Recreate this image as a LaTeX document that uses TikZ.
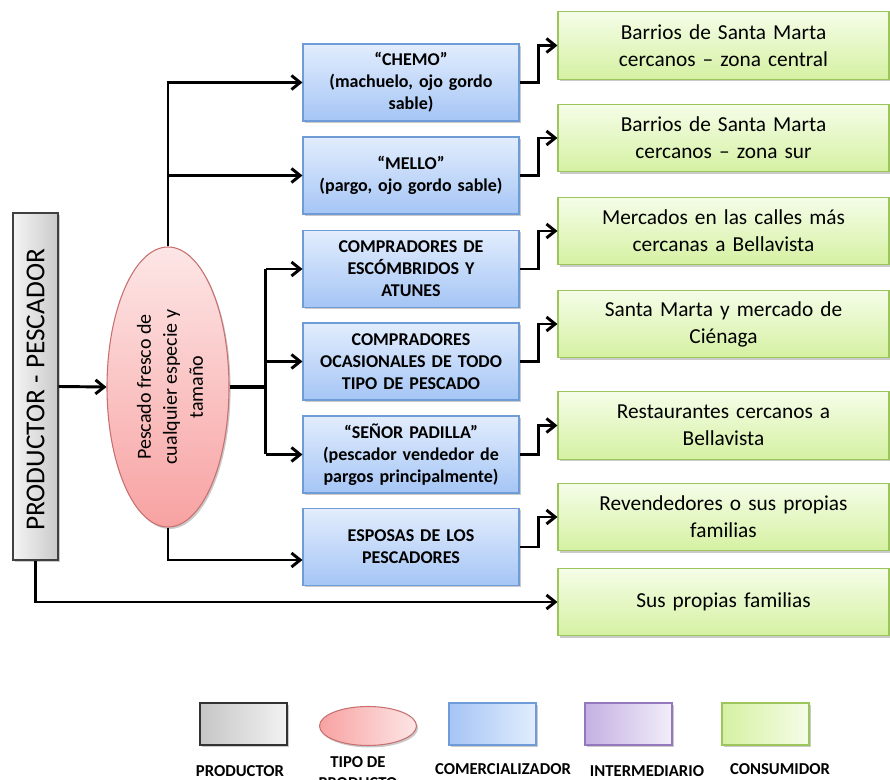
\documentclass[tikz,border=0pt]{standalone}
\usepackage{fontspec}
\setmainfont{Carlito}
\usetikzlibrary{arrows.meta,shapes.geometric,shadows,calc}

\definecolor{bluetop}{HTML}{E2EDFD}
\definecolor{bluebot}{HTML}{A5C5F5}
\definecolor{bluedraw}{HTML}{6F9BD6}
\definecolor{greentop}{HTML}{F5FDE8}
\definecolor{greenbot}{HTML}{D5F1A2}
\definecolor{greendraw}{HTML}{9CC65C}
\definecolor{pinktop}{HTML}{FDE6E6}
\definecolor{pinkbot}{HTML}{F8A2A2}
\definecolor{pinkdraw}{HTML}{C87070}
\definecolor{violetleft}{HTML}{C4B0E2}
\definecolor{violetright}{HTML}{F2EEF9}
\definecolor{violetdraw}{HTML}{9478BE}

\begin{document}
\begin{tikzpicture}[x=0.75pt,y=-0.75pt,
  boxshadow/.style={drop shadow={shadow xshift=1.2pt,shadow yshift=-1.5pt,opacity=0.35,fill=black!60}},
  buyer/.style={rectangle,draw=bluedraw,line width=0.8pt,top color=bluetop,bottom color=bluebot,
    minimum width=162pt,minimum height=57.75pt,text width=156pt,align=center,inner sep=2pt,
    font=\fontsize{13.5}{16.5}\selectfont\bfseries,boxshadow},
  consumer/.style={rectangle,draw=greendraw,line width=0.8pt,top color=greentop,bottom color=greenbot,
    minimum width=248.25pt,minimum height=50.75pt,text width=240pt,align=center,inner sep=2pt,
    font=\fontsize{16}{20.25}\selectfont,boxshadow},
  keybox/.style={rectangle,line width=0.8pt,minimum width=65.25pt,minimum height=31.5pt,inner sep=0pt,boxshadow},
  keylabel/.style={font=\fontsize{12.5}{15.75}\selectfont\bfseries,align=center,inner sep=0pt},
  link/.style={line width=2.2pt},
  flow/.style={line width=2.2pt,-{Straight Barb[length=6.5pt,width=10.5pt]}},
]
\useasboundingbox (0,0) rectangle (890,780);

% producer and product type
\node[rectangle,draw=black!75,line width=0.8pt,left color=gray!8,right color=gray!42,
  minimum width=33.75pt,minimum height=260.25pt,inner sep=0pt,boxshadow] (p) at (35.5,386.5) {};
\node[rotate=90,font=\fontsize{20.5}{24}\selectfont] (ptext) at (35.5,390) {PRODUCTOR - PESCADOR};

\node[ellipse,draw=pinkdraw,line width=0.8pt,top color=pinktop,bottom color=pinkbot,
  minimum width=91.5pt,minimum height=210pt,inner sep=0pt,boxshadow] (e) at (168,387) {};
\node[rotate=90,align=center,font=\fontsize{15}{19.5}\selectfont] (etext) at (170,387)
  {Pescado fresco de\\cualquier especie y\\tamaño};

% buyers
\node[buyer] (b1) at (411,82.5)  {“CHEMO”\\(machuelo, ojo gordo\\sable)};
\node[buyer] (b2) at (411,175.5) {“MELLO”\\(pargo, ojo gordo sable)};
\node[buyer] (b3) at (411,269)   {COMPRADORES DE\\ESCÓMBRIDOS Y\\ATUNES};
\node[buyer] (b4) at (411,361.5) {COMPRADORES\\OCASIONALES DE TODO\\TIPO DE PESCADO};
\node[buyer] (b5) at (411,454.5) {“SEÑOR PADILLA”\\(pescador vendedor de\\pargos principalmente)};
\node[buyer] (b6) at (411,547)   {ESPOSAS DE LOS\\PESCADORES};

% consumers
\node[consumer] (g1) at (723.5,45.5)  {Barrios de Santa Marta\\cercanos – zona central};
\node[consumer] (g2) at (723.5,138)   {Barrios de Santa Marta\\cercanos – zona sur};
\node[consumer] (g3) at (723.5,231)   {Mercados en las calles más\\cercanas a Bellavista};
\node[consumer] (g4) at (723.5,324)   {Santa Marta y mercado de\\Ciénaga};
\node[consumer] (g5) at (723.5,425.5) {Restaurantes cercanos a\\Bellavista};
\node[consumer] (g6) at (723.5,517)   {Revendedores o sus propias\\familias};
\node[consumer] (g7) at (723.5,602)   {Sus propias familias};

% connectors on the left
\draw[flow] (p.east) -- (e.west);
\draw[flow] (e.north) |- (b1.west);
\draw[flow] (e.north |- b2.west) -- (b2.west);
\coordinate (hub) at ([xshift=27pt]e.east);
\draw[link,line width=2.8pt] (e.east) -- (hub);
\draw[link] (hub |- b3.west) -- (hub |- b5.west);
\draw[flow] (hub |- b3.west) -- (b3.west);
\draw[flow] (hub |- b4.west) -- (b4.west);
\draw[flow] (hub |- b5.west) -- (b5.west);
\draw[flow] (e.south) |- ([yshift=-9.75pt]b6.west);
\draw[flow] (p.south) |- (g7.west);

% connectors on the right
\foreach \i in {1,...,6}{
  \draw[flow] (b\i.east) -- ++(19,0) |- (g\i.west);
}

% key
\node[keybox,draw=black!80,left color=gray!45,right color=gray!10] (k1) at (243.5,724) {};
\node[ellipse,line width=0.8pt,draw=pinkdraw,left color=pinkbot,right color=pinktop,
  minimum width=72.75pt,minimum height=29.25pt,inner sep=0pt,boxshadow] (k2) at (368,726) {};
\node[keybox,draw=bluedraw,left color=bluebot,right color=bluetop] (k3) at (492.5,724) {};
\node[keybox,draw=violetdraw,left color=violetleft,right color=violetright] (k4) at (628.5,724) {};
\node[keybox,draw=greendraw,left color=greenbot,right color=greentop] (k5) at (765.5,724) {};

\node[keylabel] (l1) at (240,771) {PRODUCTOR};
\node[keylabel] (l2) at (358,772.5) {TIPO DE\\PRODUCTO};
\node[keylabel] (l3) at (503,769.5) {COMERCIALIZADOR};
\node[keylabel] (l4) at (647,771) {INTERMEDIARIO};
\node[keylabel] (l5) at (780,769.5) {CONSUMIDOR};
\end{tikzpicture}
\end{document}
